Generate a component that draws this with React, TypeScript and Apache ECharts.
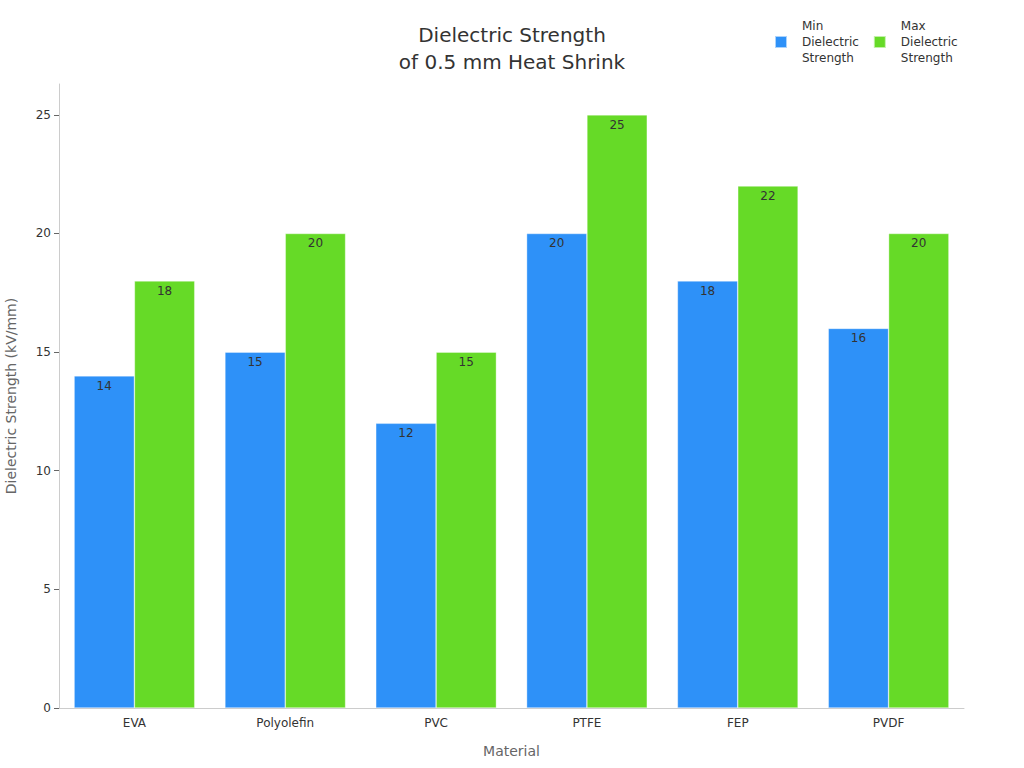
import React, { useEffect, useRef } from "react";
import * as echarts from "echarts";

const categories = ["EVA", "Polyolefin", "PVC", "PTFE", "FEP", "PVDF"];
const minStrength = [14, 15, 12, 20, 18, 16];
const maxStrength = [18, 20, 15, 25, 22, 20];
const seriesNames = ["Min\nDielectric\nStrength", "Max\nDielectric\nStrength"];

const FONT = "DejaVu Sans";

export default function App() {
  const ref = useRef<HTMLDivElement>(null);
  useEffect(() => {
    if (!ref.current) return;
    const chart = echarts.init(ref.current, null, { renderer: "svg" });
    const label = {
      show: true,
      position: "insideTop" as const,
      distance: 4,
      color: "#333",
      fontSize: 12,
      fontFamily: FONT,
    };
    chart.setOption({
      animation: false,
      textStyle: { fontFamily: FONT },
      title: {
        text: "Dielectric Strength\nof 0.5 mm Heat Shrink",
        left: "center",
        top: 16,
        textStyle: { fontSize: 20, fontWeight: "normal", color: "#333", lineHeight: 27, fontFamily: FONT },
      },
      legend: {
        left: 769,
        top: 13,
        itemWidth: 12,
        itemHeight: 12,
        itemGap: 14,
        icon: "rect",
        textStyle: { fontSize: 12, color: "#333", lineHeight: 16, padding: [0, 0, 0, 10], fontFamily: FONT },
      },
      grid: { left: 59, right: 60, top: 84, bottom: 60, containLabel: false, outerBoundsMode: "none" },
      xAxis: {
        type: "category",
        data: categories,
        name: "Material",
        nameLocation: "middle",
        nameGap: 36,
        nameTextStyle: { fontSize: 14, color: "#666", fontFamily: FONT },
        axisLine: { lineStyle: { color: "#ccc" } },
        axisTick: { alignWithLabel: true, lineStyle: { color: "#666" }, length: 5 },
        axisLabel: { color: "#333", fontSize: 12, margin: 9, fontFamily: FONT },
      },
      yAxis: {
        type: "value",
        min: 0,
        max: 26.3,
        interval: 5,
        name: "Dielectric Strength (kV/mm)",
        nameLocation: "middle",
        nameGap: 41,
        nameTextStyle: { fontSize: 14, color: "#666", fontFamily: FONT },
        axisLine: { show: true, lineStyle: { color: "#ccc" } },
        axisTick: { show: true, lineStyle: { color: "#666" }, length: 5 },
        axisLabel: { color: "#333", fontSize: 12, showMaxLabel: false, margin: 8, fontFamily: FONT },
        splitLine: { show: false },
      },
      series: [
        {
          name: seriesNames[0],
          type: "bar",
          data: minStrength,
          barGap: "0%",
          barCategoryGap: "20%",
          itemStyle: { color: "#2E91F8", borderColor: "rgba(255,255,255,0.6)", borderWidth: 0.6 },
          label,
        },
        {
          name: seriesNames[1],
          type: "bar",
          data: maxStrength,
          itemStyle: { color: "#66DA27", borderColor: "rgba(255,255,255,0.6)", borderWidth: 0.6 },
          label,
        },
      ],
    });
    return () => chart.dispose();
  }, []);
  return <div ref={ref} style={{ width: 1024, height: 768, position: "absolute", left: 0, top: 0 }} />;
}
